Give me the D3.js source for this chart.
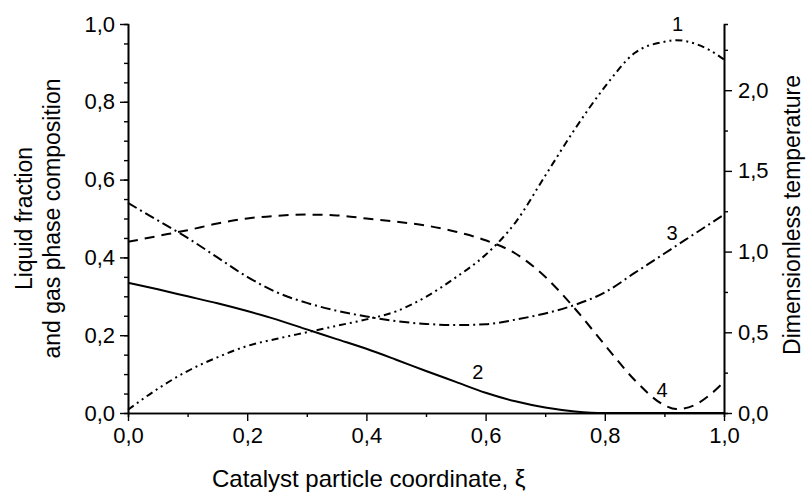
<!DOCTYPE html>
<html>
<head>
<meta charset="utf-8">
<script src="https://cdn.jsdelivr.net/npm/d3@7"></script>
<style>
  html, body { margin: 0; padding: 0; background: #fff; }
  svg { display: block; }
</style>
</head>
<body>
<svg id="chart" width="806" height="494"></svg>
<script>
// catalyst particle coordinate, xi
var xi = [0, 0.05, 0.1, 0.15, 0.2, 0.25, 0.3, 0.35, 0.4, 0.45, 0.5, 0.55, 0.6, 0.65,
  0.7, 0.75, 0.8, 0.85, 0.9, 0.92, 0.95, 0.975, 1.0];

// curve 1: dimensionless temperature (right axis)
var curve1 = [0.02, 0.15, 0.26, 0.345, 0.415, 0.46, 0.50, 0.54, 0.58, 0.63, 0.72, 0.84, 0.98, 1.18,
  1.47, 1.76, 2.02, 2.23, 2.30, 2.31, 2.29, 2.25, 2.19];
// curve 2: liquid fraction (left axis)
var curve2 = [0.335, 0.318, 0.30, 0.282, 0.262, 0.24, 0.215, 0.19, 0.165, 0.137, 0.108, 0.08, 0.052, 0.03,
  0.014, 0.004, 0.0, 0.0, 0.0, 0.0, 0.0, 0.0, 0.0];
// curve 3: gas phase composition (left axis)
var curve3 = [0.54, 0.495, 0.45, 0.40, 0.35, 0.31, 0.283, 0.263, 0.248, 0.236, 0.229, 0.226, 0.228, 0.24,
  0.256, 0.278, 0.31, 0.36, 0.41, 0.43, 0.46, 0.485, 0.51];
// curve 4: gas phase composition (left axis)
var curve4 = [0.44, 0.455, 0.47, 0.487, 0.50, 0.507, 0.51, 0.508, 0.50, 0.492, 0.482, 0.466, 0.444, 0.41,
  0.35, 0.268, 0.175, 0.085, 0.02, 0.01, 0.02, 0.045, 0.08];

var xTicks = [0, 0.2, 0.4, 0.6, 0.8, 1.0];
var leftTicks = [0, 0.2, 0.4, 0.6, 0.8, 1.0];
var rightTicks = [0, 0.5, 1.0, 1.5, 2.0];

var svg = d3.select('#chart');
var font = 'Arial, "Liberation Sans", sans-serif';
var margin = { top: 24, right: 82, bottom: 81, left: 128 };
var width = 806, height = 494;

var x = d3.scaleLinear().domain([0, 1]).range([margin.left, width - margin.right]);
var yL = d3.scaleLinear().domain([0, 1]).range([height - margin.bottom, margin.top]);
var yR = d3.scaleLinear().domain([0, 2.41]).range([height - margin.bottom, margin.top]);

function comma(d) { return d3.format('.1f')(d).replace('.', ','); }

function styleAxis(g) {
  g.select('.domain').attr('stroke', '#000').attr('stroke-width', 1.6);
  g.selectAll('.tick line').attr('stroke', '#000').attr('stroke-width', 1.4);
  g.selectAll('.tick text').attr('fill', '#000')
    .attr('font-family', font).attr('font-size', '22px');
}

// minor ticks first, then major on top
svg.append('g')
  .attr('transform', 'translate(0,' + yL(0) + ')')
  .call(d3.axisBottom(x).tickValues(d3.range(0.1, 1, 0.2)).tickSize(4).tickFormat(''))
  .call(styleAxis);
svg.append('g')
  .attr('transform', 'translate(0,' + yL(0) + ')')
  .call(d3.axisBottom(x).tickValues(xTicks).tickSize(8).tickSizeOuter(0).tickPadding(6).tickFormat(comma))
  .call(styleAxis);

svg.append('g')
  .attr('transform', 'translate(' + x(0) + ',0)')
  .call(d3.axisLeft(yL).tickValues(d3.range(0.05, 1, 0.05)).tickSize(4).tickFormat(''))
  .call(styleAxis);
svg.append('g')
  .attr('transform', 'translate(' + x(0) + ',0)')
  .call(d3.axisLeft(yL).tickValues(leftTicks).tickSize(8).tickSizeOuter(0).tickPadding(5).tickFormat(comma))
  .call(styleAxis);

svg.append('g')
  .attr('transform', 'translate(' + x(1) + ',0)')
  .call(d3.axisRight(yR).tickValues([0.25, 0.75, 1.25, 1.75, 2.25]).tickSize(4).tickFormat(''))
  .call(styleAxis);
svg.append('g')
  .attr('transform', 'translate(' + x(1) + ',0)')
  .call(d3.axisRight(yR).tickValues(rightTicks).tickSize(8).tickSizeOuter(0).tickPadding(6).tickFormat(comma))
  .call(styleAxis);

// curves
var series = [
  { values: curve1, scale: yR, dash: '7,4,2,4,2,4' },
  { values: curve2, scale: yL, dash: null },
  { values: curve3, scale: yL, dash: '10,4,2,4' },
  { values: curve4, scale: yL, dash: '10,7' }
];

series.forEach(function (s) {
  var line = d3.line()
    .x(function (d, i) { return x(xi[i]); })
    .y(function (d) { return s.scale(d); })
    .curve(d3.curveMonotoneX);
  svg.append('path')
    .datum(s.values)
    .attr('d', line)
    .attr('fill', 'none')
    .attr('stroke', '#000')
    .attr('stroke-width', 2)
    .attr('stroke-dasharray', s.dash);
});

// curve numbers
var curveLabels = [
  { text: '1', xv: 0.922, yv: 1.0 },
  { text: '3', xv: 0.913, yv: 0.464 },
  { text: '2', xv: 0.587, yv: 0.105 },
  { text: '4', xv: 0.896, yv: 0.06 }
];
curveLabels.forEach(function (d) {
  svg.append('text')
    .attr('x', x(d.xv))
    .attr('y', yL(d.yv))
    .attr('dy', '0.35em')
    .attr('text-anchor', 'middle')
    .attr('font-family', font)
    .attr('font-size', '20px')
    .text(d.text);
});

// axis titles
svg.append('text')
  .attr('x', 212)
  .attr('y', 487)
  .attr('font-family', font)
  .attr('font-size', '24px')
  .text('Catalyst particle coordinate, \u03BE');

var leftTitle = svg.append('text')
  .attr('transform', 'translate(32,' + yL(0.5) + ') rotate(-90)')
  .attr('text-anchor', 'middle')
  .attr('font-family', font)
  .attr('font-size', '23px');
leftTitle.append('tspan').attr('x', 0).attr('y', 0).text('Liquid fraction');
leftTitle.append('tspan').attr('x', 0).attr('y', 28).text('and gas phase composition');

svg.append('text')
  .attr('transform', 'translate(800,' + 215 + ') rotate(-90)')
  .attr('text-anchor', 'middle')
  .attr('font-family', font)
  .attr('font-size', '23px')
  .text('Dimensionless temperature');
</script>
</body>
</html>
